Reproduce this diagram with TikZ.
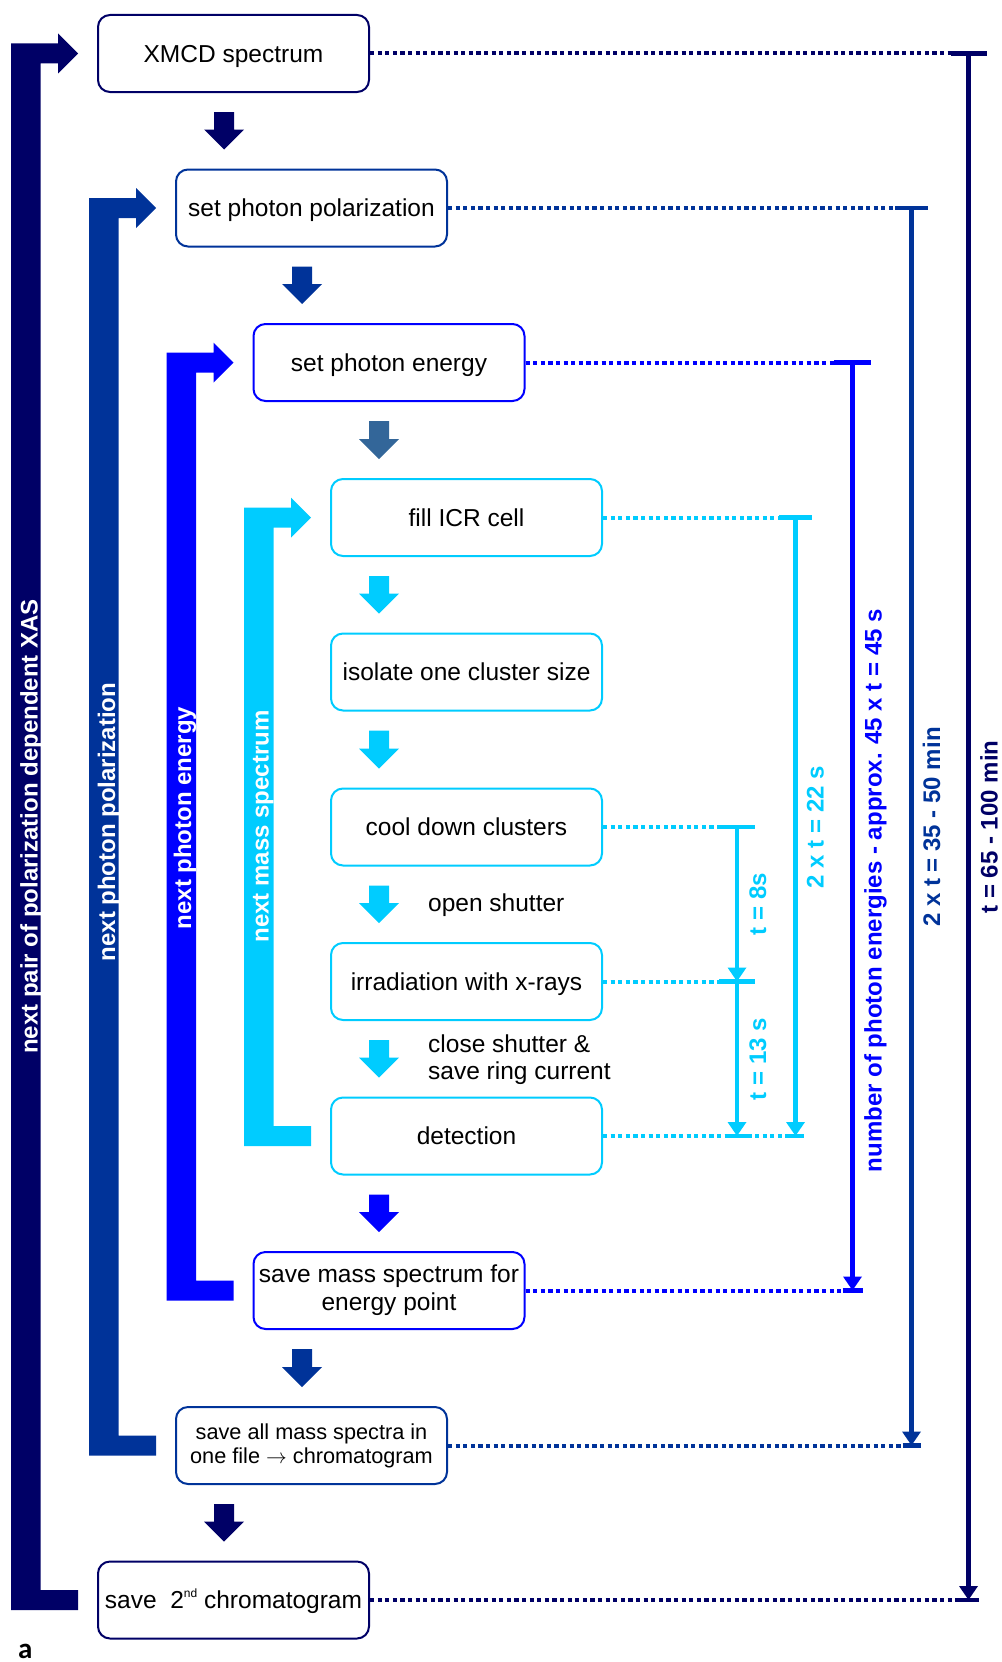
\documentclass[tikz,border=0pt]{standalone}
\usepackage{fontspec}
\setmainfont{Liberation Sans}
\newfontfamily\panelfont{Carlito}
\usetikzlibrary{calc,arrows.meta}

\definecolor{lvlA}{HTML}{000066}
\definecolor{lvlB}{HTML}{003399}
\definecolor{lvlC}{HTML}{0000FF}
\definecolor{lvlCarrow}{HTML}{336699}
\definecolor{lvlD}{HTML}{00CCFF}

\tikzset{
  stepbox/.style={draw=#1, rounded corners=12pt, line width=2pt,
    minimum width=271pt, minimum height=77pt, inner sep=0pt, align=center,
    font=\fontsize{24.5pt}{28pt}\selectfont, text=black},
  onerow/.style={text height=17.5pt, text depth=0pt},
  tdots/.style={line width=4pt, dash pattern=on 4.2pt off 3.4pt},
  tline/.style={line width=4.2pt},
  tarrow/.style={tline, -{Triangle[width=18pt,length=14pt]}},
  barlabel/.style={rotate=90, text=white,
    font=\fontsize{24pt}{28pt}\selectfont\bfseries,
    text height=17pt, text depth=0pt, inner sep=0pt},
  timelabel/.style={rotate=90,
    font=\fontsize{24pt}{28pt}\selectfont\bfseries,
    text height=17pt, text depth=0pt, inner sep=0pt},
  note/.style={font=\fontsize{24.5pt}{27pt}\selectfont, align=left,
    inner sep=0pt, text=black},
}

% block arrow between two stacked boxes, at horizontal position #4
\newcommand\flowdown[4]{%
  \fill[#3] let \p1=(#1.south), \p2=(#2.north) in
    ({#4pt-10pt},{\y1-19pt}) -- ({#4pt+10pt},{\y1-19pt}) --
    ({#4pt+10pt},{\y2+39pt}) -- ({#4pt+20pt},{\y2+39pt}) --
    ({#4pt},{\y2+19pt}) -- ({#4pt-20pt},{\y2+39pt}) --
    ({#4pt-10pt},{\y2+39pt}) -- cycle;}

% thick loop-back bracket from the bottom box up to the top box
\newcommand\loopback[3]{%
  \fill[#1] let \p1=(#2.west), \p2=(#3.west) in
    ({\x1-86pt},{\y1+10pt}) -- ({\x1-39pt},{\y1+10pt}) --
    ({\x1-39pt},{\y1+20pt}) -- ({\x1-19pt},{\y1}) --
    ({\x1-39pt},{\y1-20pt}) -- ({\x1-39pt},{\y1-10pt}) --
    ({\x1-56.5pt},{\y1-10pt}) -- ({\x1-56.5pt},{\y2+10pt}) --
    ({\x2-19pt},{\y2+10pt}) -- ({\x2-19pt},{\y2-10pt}) --
    ({\x1-86pt},{\y2-10pt}) -- cycle;}

% duration bar: dotted leaders, end ticks and a vertical arrow
\newcommand\timebar[6]{%
  \draw[tdots,#1] (#2.east) -- ($(#2.east -| #4)+(-#5,0)$);
  \draw[tline,#1] ($(#2.east -| #4)+(-#5,0)$) -- ($(#2.east -| #4)+(#5,0)$);
  \draw[tdots,#1] (#3.east) -- ($(#3.east -| #4)+(-#6,0)$);
  \draw[tline,#1] ($(#3.east -| #4)+(-#6,0)$) -- ($(#3.east -| #4)+(#6,0)$);
  \draw[tarrow,#1] (#2.east -| #4) -- (#3.east -| #4);}

\begin{document}
\begin{tikzpicture}[x=1pt,y=-1pt]
\useasboundingbox (0,0) rectangle (1001,1662);

% process steps
\node[stepbox=lvlA, onerow] (xmcd)     at (233.5,53.5)  {XMCD spectrum};
\node[stepbox=lvlB, onerow] (pol)      at (311.5,208)   {set photon polarization};
\node[stepbox=lvlC, onerow] (energy)   at (389,362.5)   {set photon energy};
\node[stepbox=lvlD, onerow] (fill)     at (466.5,517.5) {fill ICR cell};
\node[stepbox=lvlD, onerow] (isolate)  at (466.5,672)   {isolate one cluster size};
\node[stepbox=lvlD, onerow] (cool)     at (466.5,827)   {cool down clusters};
\node[stepbox=lvlD, onerow] (irrad)    at (466.5,981.5) {irradiation with x-rays};
\node[stepbox=lvlD, onerow] (detect)   at (466.5,1136)  {detection};
\node[stepbox=lvlC] (savemass) at (389,1290.5)
  {save mass spectrum for\\energy point};
\node[stepbox=lvlB, font=\fontsize{21.7pt}{24pt}\selectfont] (saveall) at (311.5,1445.5)
  {save all mass spectra in\\one file $\rightarrow$ chromatogram};
\node[stepbox=lvlA, onerow] (save2nd)  at (233.5,1600)
  {save\ \ 2\raisebox{11pt}{\fontsize{12pt}{12pt}\selectfont nd} chromatogram};

% side notes
\node[note, anchor=base west] (opensh)  at (428,911) {open shutter};
\node[note, anchor=west]      (closesh) at (428,1059.5) {close shutter \&\\save ring current};

% flow arrows
\flowdown{xmcd}{pol}{lvlA}{224}
\flowdown{pol}{energy}{lvlB}{302}
\flowdown{energy}{fill}{lvlCarrow}{379}
\flowdown{fill}{isolate}{lvlD}{379}
\flowdown{isolate}{cool}{lvlD}{379}
\flowdown{cool}{irrad}{lvlD}{379}
\flowdown{irrad}{detect}{lvlD}{379}
\flowdown{detect}{savemass}{lvlC}{379}
\flowdown{savemass}{saveall}{lvlB}{302}
\flowdown{saveall}{save2nd}{lvlA}{224}

% loops
\loopback{lvlA}{xmcd}{save2nd}
\loopback{lvlB}{pol}{saveall}
\loopback{lvlC}{energy}{savemass}
\loopback{lvlD}{fill}{detect}

\node[barlabel] (loopA) at (29,826.5)  {next pair of polarization dependent XAS};
\node[barlabel] (loopB) at (106.5,822) {next photon polarization};
\node[barlabel] (loopC) at (182.5,818) {next photon energy};
\node[barlabel] (loopD) at (260,826.5) {next mass spectrum};

% durations
\coordinate (vA) at (968.5,0);
\coordinate (vB) at (911.5,0);
\coordinate (vC) at (852.5,0);
\coordinate (vD) at (795.5,0);
\coordinate (vE) at (737,0);

\timebar{lvlD}{fill}{detect}{vD}{16.5}{8.5}
\timebar{lvlD}{cool}{irrad}{vE}{18}{18}
\timebar{lvlD}{irrad}{detect}{vE}{18}{9.5}
\timebar{lvlC}{energy}{savemass}{vC}{18.5}{10}
\timebar{lvlB}{pol}{saveall}{vB}{16.5}{9}
\timebar{lvlA}{xmcd}{save2nd}{vA}{18}{10}

\node[timelabel, lvlD] (tE1) at (757.5,904)   {t = 8s};
\node[timelabel, lvlD] (tE2) at (757.5,1059)  {t = 13 s};
\node[timelabel, lvlD] (tD)  at (815,827)     {2 x t = 22 s};
\node[timelabel, lvlC] (tC)  at (873,890.5)   {number of photon energies - approx. 45 x t = 45 s};
\node[timelabel, lvlB] (tB)  at (931.5,827)   {2 x t = 35 - 50 min};
\node[timelabel, lvlA] (tA)  at (989,827)     {t = 65 - 100 min};

% panel letter
\node[anchor=base west, inner sep=0pt, font=\panelfont\bfseries\fontsize{29pt}{29pt}\selectfont] (panel) at (18,1658) {a};
\end{tikzpicture}
\end{document}
